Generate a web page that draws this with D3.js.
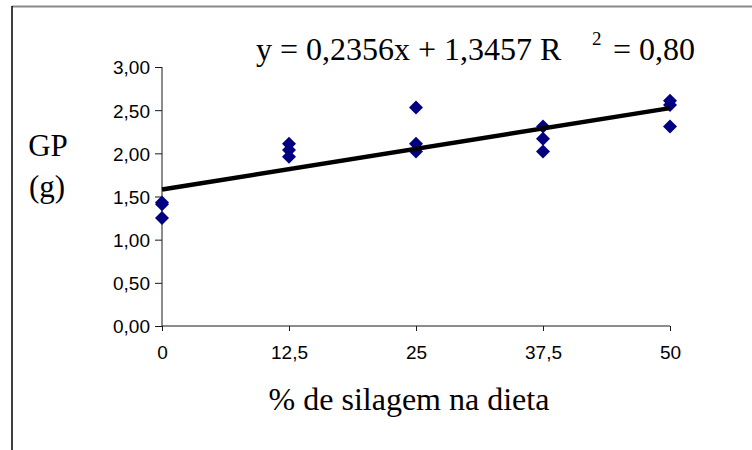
<!DOCTYPE html>
<html>
<head>
<meta charset="utf-8">
<script src="https://cdn.jsdelivr.net/npm/d3@7"></script>
<style>
  html, body { margin: 0; padding: 0; background: #fff; }
  svg { display: block; }
</style>
</head>
<body>
<svg id="chart" width="752" height="450"></svg>
<script>
// ---- data ----
const silagePct = [0, 0, 0, 12.5, 12.5, 12.5, 25, 25, 25, 37.5, 37.5, 37.5, 50, 50, 50];
const gpValues  = [1.43, 1.41, 1.25, 2.11, 2.04, 1.96, 2.53, 2.11, 2.02, 2.31, 2.17, 2.02, 2.61, 2.56, 2.31];
const xTicks = [0, 12.5, 25, 37.5, 50];
const xTickLabels = ["0", "12,5", "25", "37,5", "50"];
const yTicks = [0, 0.5, 1, 1.5, 2, 2.5, 3];
const yTickLabels = ["0,00", "0,50", "1,00", "1,50", "2,00", "2,50", "3,00"];
const trendSlope = 0.2356;      // per category index (1..5)
const trendIntercept = 1.3457;
const trendStep = 12.5;         // spacing between categories
const yTitleLines = ["GP", "(g)"];
const xTitle = "% de silagem na dieta";
const eqMain = "y = 0,2356x + 1,3457 R";
const eqSup = "2";
const eqTail = "= 0,80";

// ---- layout ----
const svg = d3.select("#chart");
const x = d3.scaleLinear().domain([0, 50]).range([162, 670]);
const y = d3.scaleLinear().domain([0, 3]).range([326, 67]);
const axisColor = "#1a1a1a";

// outer frame (top gray, left black)
svg.append("line").attr("x1", 12).attr("x2", 752).attr("y1", 6.5).attr("y2", 6.5)
  .attr("stroke", "#8a8a8a").attr("stroke-width", 2);
svg.append("line").attr("x1", 12).attr("x2", 12).attr("y1", 6).attr("y2", 450)
  .attr("stroke", "#000").attr("stroke-width", 1.5);

// y axis
const yAxis = d3.axisLeft(y).tickValues(yTicks).tickSize(7).tickPadding(5)
  .tickFormat((d, i) => yTickLabels[i]);
const gy = svg.append("g").attr("transform", `translate(${x(0)},0)`).call(yAxis);
gy.select(".domain").attr("stroke", axisColor).attr("d", `M0,${y(3)}V${y(0)}`);
gy.selectAll(".tick line").attr("stroke", axisColor);
gy.selectAll(".tick text").attr("font-family", "Liberation Sans, Arial, sans-serif")
  .attr("font-size", 19).attr("fill", "#000").attr("x", -12).attr("dy", "0.36em");

// x axis
const xAxis = d3.axisBottom(x).tickValues(xTicks).tickSize(5).tickPadding(10)
  .tickFormat((d, i) => xTickLabels[i]);
const gx = svg.append("g").attr("transform", `translate(0,${y(0)})`).call(xAxis);
gx.select(".domain").attr("stroke", axisColor).attr("d", `M${x(0)},0H${x(50)}`);
gx.selectAll(".tick line").attr("stroke", axisColor);
gx.selectAll(".tick text").attr("font-family", "Liberation Sans, Arial, sans-serif")
  .attr("font-size", 19).attr("fill", "#000").attr("y", 33).attr("dy", 0);

// points
const pts = silagePct.map((v, i) => ({ x: v, y: gpValues[i] }));
svg.append("g").selectAll("path").data(pts).join("path")
  .attr("d", "M0,-7L7,0L0,7L-7,0Z")
  .attr("transform", d => `translate(${x(d.x)},${y(d.y)})`)
  .attr("fill", "#000080");

// trend line
const trendAt = v => trendSlope * (1 + v / trendStep) + trendIntercept;
svg.append("line")
  .attr("x1", x(0)).attr("y1", y(trendAt(0)))
  .attr("x2", x(50)).attr("y2", y(trendAt(50)))
  .attr("stroke", "#000").attr("stroke-width", 4.5);

// equation
const serif = "Liberation Serif, Times New Roman, serif";
svg.append("text").attr("x", 256).attr("y", 60).attr("font-family", serif)
  .attr("font-size", 32).text(eqMain);
svg.append("text").attr("x", 592).attr("y", 45).attr("font-family", serif)
  .attr("font-size", 19).text(eqSup);
svg.append("text").attr("x", 613).attr("y", 60).attr("font-family", serif)
  .attr("font-size", 32).text(eqTail);

// y title
svg.append("text").attr("x", 48).attr("y", 156).attr("text-anchor", "middle")
  .attr("font-family", serif).attr("font-size", 31).text(yTitleLines[0]);
svg.append("text").attr("x", 47).attr("y", 197).attr("text-anchor", "middle")
  .attr("font-family", serif).attr("font-size", 31).text(yTitleLines[1]);

// x title
svg.append("text").attr("x", 409).attr("y", 410).attr("text-anchor", "middle")
  .attr("font-family", serif).attr("font-size", 32).text(xTitle);
</script>
</body>
</html>
